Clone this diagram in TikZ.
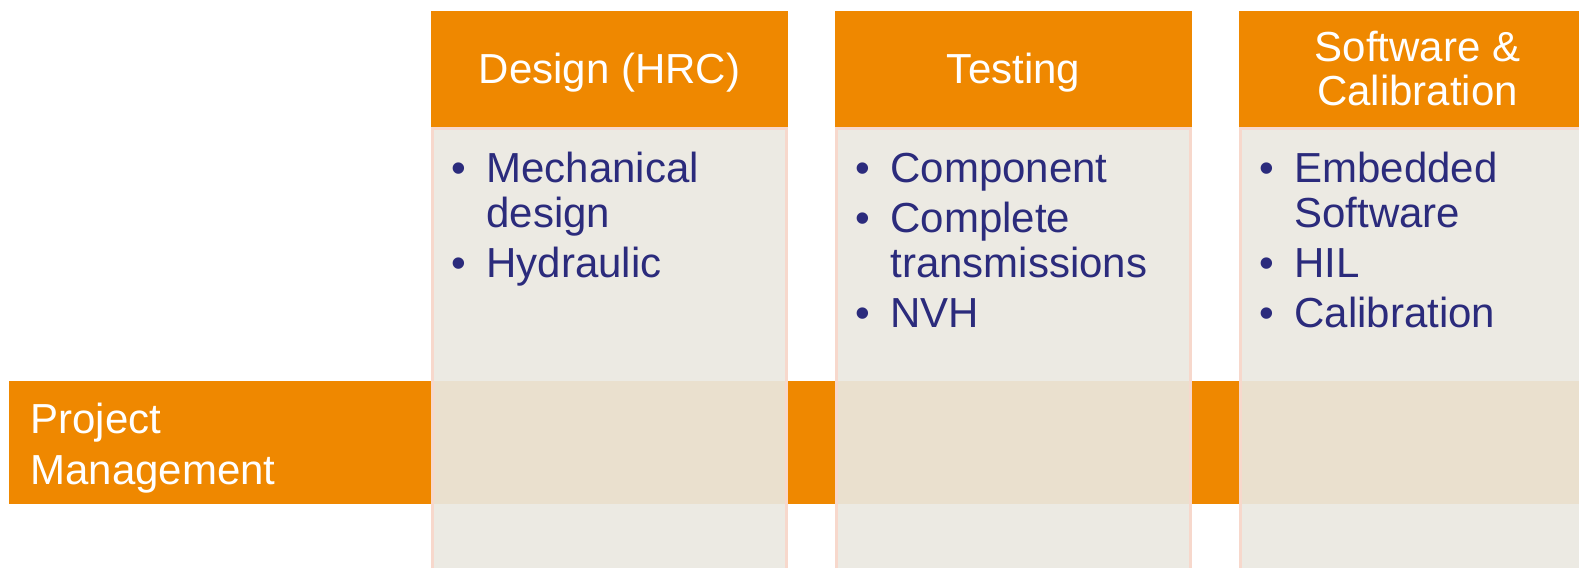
\documentclass[tikz,border=0pt]{standalone}
\usepackage{fontspec}
\setmainfont{Liberation Sans}
\definecolor{hdrorange}{HTML}{EF8800}
\definecolor{cellgray}{HTML}{ECEAE3}
\definecolor{cellbeige}{HTML}{EAE0CE}
\definecolor{cellline}{HTML}{F7D8CC}
\definecolor{itemblue}{HTML}{2B2B7C}
\newcommand{\bitem}[1]{\makebox[17.5pt][l]{\textbullet}#1}
\newcommand{\bcont}[1]{\hspace*{17.5pt}#1}
\begin{document}
\begin{tikzpicture}[x=0.5pt,y=-0.5pt,
        hdr/.style={text=white,align=center,anchor=base,inner sep=0pt,font=\fontsize{21pt}{22pt}\selectfont},
        items/.style={text=itemblue,align=left,anchor=base west,inner sep=0pt,font=\fontsize{21pt}{22.5pt}\selectfont}]
    \useasboundingbox (0,0) rectangle (1579,568);
    \clip (0,0) rectangle (1579,568);
    \fill[hdrorange] (9,381) rectangle (1579,504);
    \foreach \x in {431,835,1239}{
        \fill[cellgray] (\x,127) rectangle ++(357,441);
        \fill[cellbeige] (\x,381) rectangle ++(357,123);
        \draw[cellline,line width=1.5pt] (\x+1.5,568) -- (\x+1.5,128.5) -- (\x+355.5,128.5) -- (\x+355.5,568);
        \fill[hdrorange] (\x,11) rectangle ++(357,116);
    }
    \node[hdr] (design) at (609.5,83) {Design (HRC)};
    \node[hdr] (testing) at (1013.5,83) {Testing};
    \node[hdr] (software) at (1417.5,105) {Software \&\\Calibration};
    \node[items] (designitems) at (451,277) {\bitem{Mechanical}\\\bcont{design}\\[2.5pt]\bitem{Hydraulic}};
    \node[items] (testingitems) at (855,327) {\bitem{Component}\\[2.5pt]\bitem{Complete}\\\bcont{transmissions}\\[2.5pt]\bitem{NVH}};
    \node[items] (softwareitems) at (1259,327) {\bitem{Embedded}\\\bcont{Software}\\[2.5pt]\bitem{HIL}\\[2.5pt]\bitem{Calibration}};
    \node[items,text=white] (pm) at (30,484) {Project\\[3pt]Management};
\end{tikzpicture}
\end{document}
